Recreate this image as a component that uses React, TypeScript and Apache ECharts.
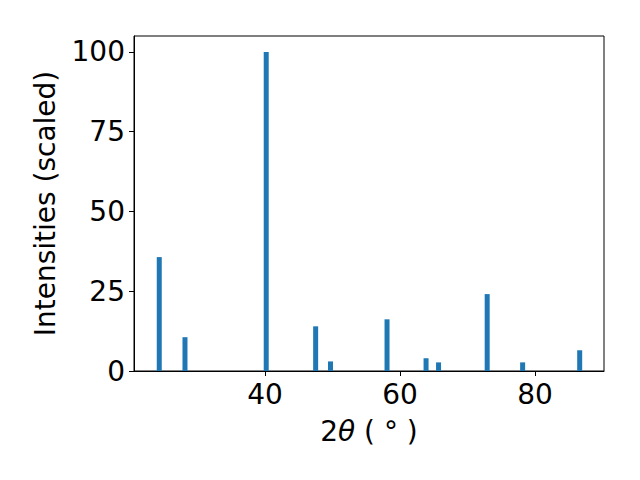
import React, { useEffect, useRef } from "react";
import * as echarts from "echarts";

const twoTheta = [24.34, 28.15, 40.18, 47.5, 49.7, 58.07, 63.85, 65.7, 72.9, 78.15, 86.6];
const intensities = [35.7, 10.6, 100, 14.0, 3.0, 16.2, 4.0, 2.7, 24.1, 2.7, 6.5];
const xTicks = [40, 60, 80];
const yTicks = [0, 25, 50, 75, 100];

const FONT = "DejaVu Sans";
const FS = 28;

export default function App() {
  const ref = useRef<HTMLDivElement>(null);
  useEffect(() => {
    if (!ref.current) return;
    const chart = echarts.init(ref.current, null, { renderer: "svg" });
    chart.setOption({
      animation: false,
      backgroundColor: "#fff",
      grid: {
        left: 134,
        right: 36,
        top: 36,
        bottom: 109,
        show: true,
        borderColor: "#000",
        borderWidth: 1,
        backgroundColor: "transparent",
      },
      xAxis: {
        type: "value",
        min: 20.6,
        max: 90.2,
        splitLine: { show: false },
        axisLine: { show: true, onZero: false, lineStyle: { color: "#000", width: 1 } },
        axisTick: {
          show: true,
          inside: false,
          length: 5,
          lineStyle: { color: "#000", width: 1 },
          customValues: xTicks,
        },
        axisLabel: {
          customValues: xTicks,
          color: "#000",
          fontFamily: FONT,
          fontSize: FS,
          margin: 9,
        },
      },
      yAxis: {
        type: "value",
        min: 0,
        max: 105,
        splitLine: { show: false },
        axisLine: { show: true, lineStyle: { color: "#000", width: 1 } },
        axisTick: {
          show: true,
          inside: false,
          length: 5,
          lineStyle: { color: "#000", width: 1 },
          customValues: yTicks,
        },
        axisLabel: {
          customValues: yTicks,
          color: "#000",
          fontFamily: FONT,
          fontSize: FS,
          margin: 9,
        },
        name: "Intensities (scaled)",
        nameLocation: "middle",
        nameGap: 75,
        nameTextStyle: { color: "#000", fontFamily: FONT, fontSize: FS },
      },
      graphic: [
        {
          type: "text",
          x: 369,
          y: 431,
          style: {
            text: "{a|2}{i|θ}{a| ( }{d|°}{a| )}",
            align: "center",
            verticalAlign: "middle",
            rich: {
              a: { fontFamily: FONT, fontSize: FS, fill: "#000" },
              i: { fontFamily: FONT, fontSize: FS, fontStyle: "italic", fill: "#000" },
              d: { fontFamily: FONT, fontSize: FS, fill: "#000" },
            },
          },
        },
      ],
      series: [
        {
          type: "bar",
          data: twoTheta.map((x, i) => [x, intensities[i]]),
          barWidth: 5,
          itemStyle: { color: "#1f77b4" },
        },
      ],
    });
    return () => chart.dispose();
  }, []);
  return (
    <div
      ref={ref}
      style={{ position: "absolute", left: 0, top: 0, width: 640, height: 480 }}
    />
  );
}
